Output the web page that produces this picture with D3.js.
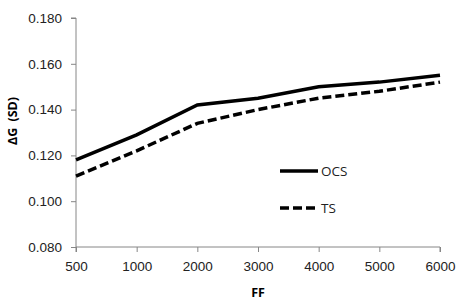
<!DOCTYPE html>
<html>
<head>
<meta charset="utf-8">
<script src="https://cdn.jsdelivr.net/npm/d3@7"></script>
<style>
  body { margin: 0; background: #fff; }
  svg { display: block; font-family: 'Open Sans', 'Noto Sans', sans-serif; }
</style>
</head>
<body>
<svg id="chart" width="462" height="301"></svg>
<script>
const categories = ['500', '1000', '2000', '3000', '4000', '5000', '6000'];
const ocsValues = [0.118, 0.129, 0.142, 0.145, 0.150, 0.152, 0.155];
const tsValues = [0.111, 0.122, 0.134, 0.140, 0.145, 0.148, 0.152];
const yTicks = [0.08, 0.10, 0.12, 0.14, 0.16, 0.18];

const SVG = d3.select('#chart');
const LEFT = 76, RIGHT = 440, TOP = 18, BOTTOM = 247;

const X = d3.scalePoint().domain(categories).range([LEFT, RIGHT]);
const Y = d3.scaleLinear().domain([0.08, 0.18]).range([BOTTOM, TOP]);

const yAxis = SVG.append('g')
  .attr('transform', `translate(${LEFT},0)`)
  .call(d3.axisLeft(Y).tickValues(yTicks).tickFormat(d3.format('.3f')).tickSize(5).tickPadding(9));
const xAxis = SVG.append('g')
  .attr('transform', `translate(0,${BOTTOM})`)
  .call(d3.axisBottom(X).tickSize(5).tickPadding(9));

[yAxis, xAxis].forEach((g) => {
  g.select('.domain').attr('stroke', '#868686');
  g.selectAll('.tick line').attr('stroke', '#868686');
  g.selectAll('.tick text').attr('fill', '#222').style('font-size', '13.5px');
});
yAxis.select('.domain').attr('d', `M-5,${TOP}H0V${BOTTOM}`);
xAxis.select('.domain').attr('d', `M${LEFT},5V0H${RIGHT}V5`);

const series = [
  { name: 'OCS', values: ocsValues, dash: null },
  { name: 'TS', values: tsValues, dash: '9,4' },
];

const line = d3.line()
  .x((d, i) => X(categories[i]))
  .y((d) => Y(d));

SVG.append('g')
  .selectAll('path')
  .data(series)
  .join('path')
  .attr('d', (d) => line(d.values))
  .attr('fill', 'none')
  .attr('stroke', '#000')
  .attr('stroke-width', 3.5)
  .attr('stroke-dasharray', (d) => d.dash);

const LEGEND = SVG.append('g').attr('transform', 'translate(280,171)');
const items = LEGEND.selectAll('g')
  .data(series)
  .join('g')
  .attr('transform', (d, i) => `translate(0,${i * 37})`);
items.append('line')
  .attr('x1', 0).attr('x2', 38)
  .attr('stroke', '#000')
  .attr('stroke-width', 3.5)
  .attr('stroke-dasharray', (d) => d.dash);
items.append('text')
  .attr('x', 41).attr('dy', '0.35em')
  .style('font-size', '13.5px')
  .attr('fill', '#222')
  .text((d) => d.name);

SVG.append('text')
  .attr('x', 258)
  .attr('y', 297)
  .attr('text-anchor', 'middle')
  .style('font-size', '12.5px')
  .style('font-weight', 'bold')
  .text('FF');

SVG.append('text')
  .attr('transform', 'translate(17,121) rotate(-90)')
  .attr('text-anchor', 'middle')
  .style('font-size', '12.5px')
  .style('font-weight', 'bold')
  .style('word-spacing', '3px')
  .text('ΔG (SD)');
</script>
</body>
</html>
